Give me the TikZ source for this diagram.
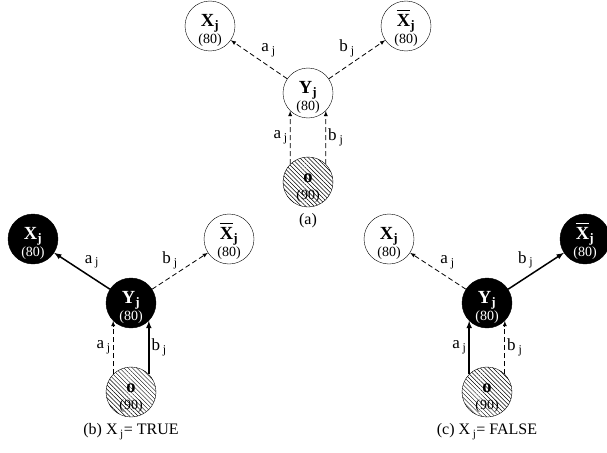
\documentclass[tikz,border=0pt]{standalone}
\usepackage{fontspec}
\setmainfont{Liberation Serif}
\usetikzlibrary{arrows,patterns.meta}

\tikzset{
  bit/.style={circle, draw, minimum size=50pt, inner sep=0pt, align=center,
    font=\fontsize{18.5}{18}\selectfont},
  lit/.style={bit, fill=black, text=white},
  unlit/.style={bit, fill=white},
  seed/.style={bit, pattern={Lines[angle=-45, distance=3pt, line width=0.45pt]}},
  live/.style={-latex, line width=1.5pt},
  idle/.style={-latex, line width=0.8pt, dash pattern=on 5pt off 3pt},
  lbl/.style={font=\fontsize{17}{17}\selectfont, inner sep=2pt},
  capt/.style={font=\fontsize{16}{16}\selectfont, inner sep=2pt, yshift=-4pt}
}
\newcommand{\bitxt}[2]{\rule{0pt}{20pt}\textbf{#1}\\[-1pt]{\fontsize{14}{14}\selectfont(#2)}}
\newcommand{\barX}{\rlap{\smash{\rule[15.5pt]{13pt}{0.8pt}}}X}

\begin{document}
\begin{tikzpicture}[x=1pt,y=-1pt]
    \useasboundingbox (0,0) rectangle (607,452);
    \foreach \p/\cx/\cy/\dy/\fy/\fx/\fxb/\sa/\sb/\capt in {
        a/308/93/67/unlit/unlit/unlit/idle/idle/{(a)},
        b/131/303/64/lit/lit/unlit/live/idle/{(b) X\,\textsubscript{j}= TRUE},
        c/487/303/64/lit/unlit/lit/idle/live/{(c) X\,\textsubscript{j}= FALSE}}
    {
    \begin{scope}[shift={(\cx,\cy)}]
        \node[\fy] (Y\p) at (0,0) {\bitxt{Y\textsubscript{j}}{80}};
        \node[\fx] (X\p) at (-98,-\dy) {\bitxt{X\textsubscript{j}}{80}};
        \node[\fxb] (XB\p) at (98,-\dy) {\bitxt{\barX\textsubscript{j}}{80}};
        \node[seed] (O\p) at (0,89) {\bitxt{o}{90}};
        \draw[\sa] (Y\p) -- (X\p) node[lbl, midway, above right] {a\,\textsubscript{j}};
        \draw[\sb] (Y\p) -- (XB\p) node[lbl, midway, above left] {b\,\textsubscript{j}};
        \draw[\sb] (O\p.north west) -- (Y\p.south west) node[lbl, midway, left] {a\,\textsubscript{j}};
        \draw[\sa] (O\p.north east) -- (Y\p.south east) node[lbl, midway, right] {b\,\textsubscript{j}};
        \node[capt, below] (cap\p) at (O\p.south) {\capt};
    \end{scope}
    }
\end{tikzpicture}
\end{document}
